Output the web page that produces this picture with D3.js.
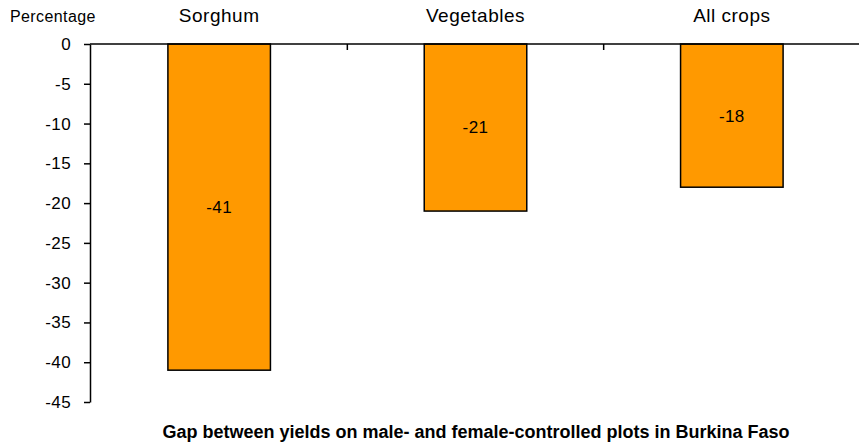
<!DOCTYPE html>
<html>
<head>
<meta charset="utf-8">
<script src="https://cdn.jsdelivr.net/npm/d3@7"></script>
<style>
  body { margin: 0; background: #fff; }
  svg text { font-family: "Liberation Sans", Arial, sans-serif; fill: #000; }
</style>
</head>
<body>
<svg id="chart" width="859" height="444"></svg>
<script>
const categories = ["Sorghum", "Vegetables", "All crops"];
const gapValues = [-41, -21, -18];
const yTicks = [0, -5, -10, -15, -20, -25, -30, -35, -40, -45];

const width = 859, height = 444;
const margin = { top: 44, right: 0, bottom: 42, left: 90 };

const svg = d3.select("#chart");

const x = d3.scaleBand()
    .domain(categories)
    .range([margin.left + 1, width + 1])
    .paddingInner(0.6)
    .paddingOuter(0.3);

const y = d3.scaleLinear()
    .domain([0, -45])
    .range([margin.top, height - margin.bottom]);

// plain hyphen for negatives, like the original
const fmt = v => String(v);

// bars
svg.selectAll(".bar")
    .data(categories)
    .enter().append("rect")
    .attr("class", "bar")
    .attr("x", d => x(d))
    .attr("y", y(0))
    .attr("width", x.bandwidth())
    .attr("height", (d, i) => y(gapValues[i]) - y(0))
    .attr("fill", "#ff9900")
    .attr("stroke", "#000")
    .attr("stroke-width", 1.5);

// value labels in the middle of each bar
svg.selectAll(".val")
    .data(categories)
    .enter().append("text")
    .attr("class", "val")
    .attr("x", d => x(d) + x.bandwidth() / 2)
    .attr("y", (d, i) => (y(0) + y(gapValues[i])) / 2)
    .attr("dy", "0.35em")
    .attr("text-anchor", "middle")
    .style("font-size", "17px")
    .style("letter-spacing", "0.4px")
    .text((d, i) => fmt(gapValues[i]));

// y axis
const yAxis = svg.append("g")
    .attr("transform", `translate(${margin.left},0)`)
    .call(d3.axisLeft(y).tickValues(yTicks).tickFormat(fmt)
        .tickSize(6).tickPadding(13).tickSizeOuter(0));
yAxis.select(".domain").attr("stroke", "#000").attr("stroke-width", 1.5);
yAxis.selectAll(".tick line").attr("stroke", "#000").attr("stroke-width", 1.5);
yAxis.selectAll(".tick text")
    .style("font-size", "17px")
    .style("letter-spacing", "0.4px")
    .style("font-family", "'Liberation Sans', Arial, sans-serif");

// zero line across the top with category separators
const bounds = categories.slice(1).map(c => x(c) - x.step() * x.paddingInner() / 2);
svg.append("line")
    .attr("x1", margin.left).attr("x2", width)
    .attr("y1", y(0)).attr("y2", y(0))
    .attr("stroke", "#000").attr("stroke-width", 1.5);
svg.selectAll(".sep")
    .data(bounds)
    .enter().append("line")
    .attr("x1", d => d).attr("x2", d => d)
    .attr("y1", y(0)).attr("y2", y(0) + 6)
    .attr("stroke", "#000").attr("stroke-width", 1.5);

// category labels above the zero line
svg.selectAll(".cat")
    .data(categories)
    .enter().append("text")
    .attr("class", "cat")
    .attr("x", d => x(d) + x.bandwidth() / 2)
    .attr("y", 22)
    .attr("text-anchor", "middle")
    .style("font-size", "19px")
    .style("letter-spacing", "0.5px")
    .text(d => d);

svg.append("text")
    .attr("x", 10)
    .attr("y", 22)
    .style("font-size", "16px")
    .style("letter-spacing", "0.4px")
    .text("Percentage");

svg.append("text")
    .attr("x", 476)
    .attr("y", 438)
    .attr("text-anchor", "middle")
    .style("font-size", "18px")
    .style("font-weight", "bold")
    .text("Gap between yields on male- and female-controlled plots in Burkina Faso");
</script>
</body>
</html>
